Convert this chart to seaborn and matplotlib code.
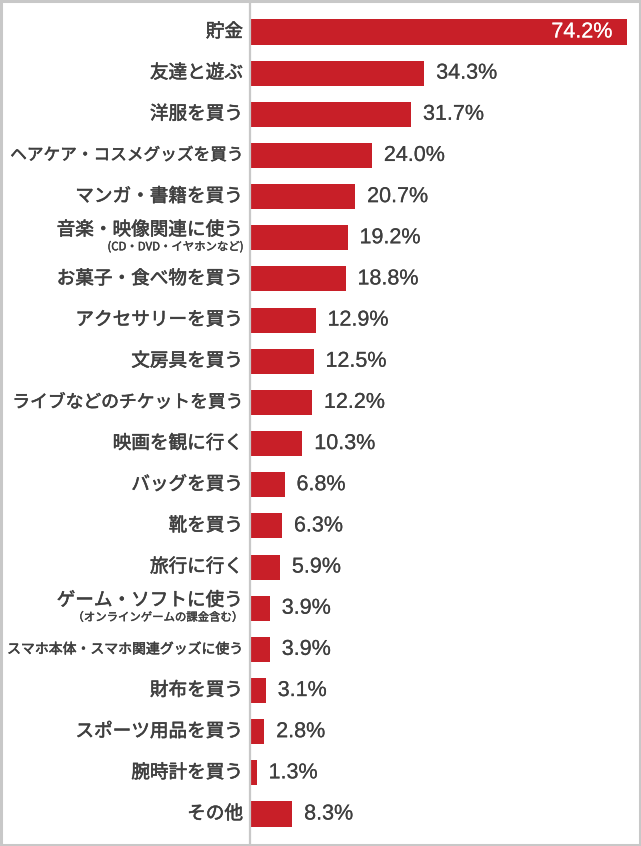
import matplotlib
matplotlib.use("Agg")
import matplotlib.pyplot as plt
import matplotlib.patheffects as pe
import seaborn as sns
import pandas as pd
from matplotlib.patches import Rectangle

categories = ["貯金", "友達と遊ぶ", "洋服を買う", "ヘアケア・コスメグッズを買う", "マンガ・書籍を買う",
              "音楽・映像関連に使う", "お菓子・食べ物を買う", "アクセサリーを買う", "文房具を買う",
              "ライブなどのチケットを買う", "映画を観に行く", "バッグを買う", "靴を買う", "旅行に行く",
              "ゲーム・ソフトに使う", "スマホ本体・スマホ関連グッズに使う", "財布を買う",
              "スポーツ用品を買う", "腕時計を買う", "その他"]
values = [74.2, 34.3, 31.7, 24.0, 20.7, 19.2, 18.8, 12.9, 12.5, 12.2, 10.3, 6.8, 6.3, 5.9,
          3.9, 3.9, 3.1, 2.8, 1.3, 8.3]
sublabels = {"音楽・映像関連に使う": "(CD・DVD・イヤホンなど)",
             "ゲーム・ソフトに使う": "（オンラインゲームの課金含む）"}
value_labels = [f"{v:.1f}%" for v in values]

sns.set_style("white")
plt.rcParams['font.family'] = ['Noto Sans CJK JP', 'DejaVu Sans']

BAR = "#c81f28"
TXT = "#3f3f3f"
GRID = "#c8c8c8"

df = pd.DataFrame({"cat": categories, "val": values})

fig = plt.figure(figsize=(6.41, 8.46), dpi=100)
ax = fig.add_axes([250 / 641, 0, 391 / 641, 1])
sns.barplot(data=df, y="cat", x="val", orient="h", color=BAR, saturation=1,
            width=0.61, ax=ax, edgecolor="none")
ax.set_xlim(0, 391 / 5.08)
ax.set_ylim(19.777, -0.777)
ax.set_xlabel("")
ax.set_ylabel("")
ax.set_xticks([])
ax.set_yticks([])
for s in ["top", "right", "bottom"]:
    ax.spines[s].set_visible(False)
ax.spines["left"].set_color(GRID)
ax.spines["left"].set_linewidth(1.6)

thick = [pe.withStroke(linewidth=0.4, foreground=TXT)]
thick_w = [pe.withStroke(linewidth=0.12, foreground="white")]
thick_v = [pe.withStroke(linewidth=0.12, foreground=TXT)]

fontsizes = {"ヘアケア・コスメグッズを買う": 12.0, "スマホ本体・スマホ関連グッズに使う": 10.0,
             "ライブなどのチケットを買う": 12.8}
for i, (c, v, vl) in enumerate(zip(categories, values, value_labels)):
    fs = fontsizes.get(c, 13.4)
    if c in sublabels:
        ax.annotate(c, xy=(0, i), xycoords=("axes fraction", "data"), xytext=(-5, 5.5),
                    textcoords="offset points", ha="right", va="center", fontsize=fs,
                    color=TXT, path_effects=thick)
        ax.annotate(sublabels[c], xy=(0, i), xycoords=("axes fraction", "data"), xytext=(-5, -6.5),
                    textcoords="offset points", ha="right", va="center", fontsize=8.2,
                    color=TXT, path_effects=[pe.withStroke(linewidth=0.3, foreground=TXT)])
    else:
        ax.annotate(c, xy=(0, i), xycoords=("axes fraction", "data"), xytext=(-5, 0),
                    textcoords="offset points", ha="right", va="center", fontsize=fs,
                    color=TXT, path_effects=thick)
    if i == 0:
        ax.annotate(vl, xy=(v, i), xycoords="data", xytext=(-10.5, 0), textcoords="offset points",
                    ha="right", va="center", fontsize=15.5, color="white",
                    family=["Liberation Sans", "DejaVu Sans"], path_effects=thick_w)
    else:
        ax.annotate(vl, xy=(v, i), xycoords="data", xytext=(8.6, 0), textcoords="offset points",
                    ha="left", va="center", fontsize=15.5, color=TXT,
                    family=["Liberation Sans", "DejaVu Sans"], path_effects=thick_v)

fig.patches.append(Rectangle((1.2 / 641, 1.5 / 846), 638.6 / 641, 843 / 846,
                             transform=fig.transFigure, fill=False, edgecolor=GRID,
                             linewidth=2.2, zorder=10))

fig.savefig("out.png", dpi=100, facecolor="white")
